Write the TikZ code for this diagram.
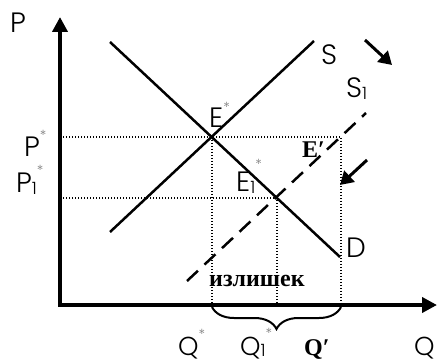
\documentclass[tikz,border=0pt]{standalone}
\usepackage{fontspec}
\setmainfont{Poppins}[UprightFont=*-Light]
\newfontfamily\boldserif{Liberation Serif}[UprightFont=* Bold]
\usepackage{xcolor}
\usetikzlibrary{arrows.meta,calc,decorations.pathreplacing}

\newcommand{\st}{\textcolor{gray}{\fontsize{14}{14}\selectfont *}}
\newcommand{\one}{\raisebox{-1.5pt}{\fontsize{17}{17}\selectfont 1}}

\begin{document}
\begin{tikzpicture}[
    x=1pt, y=-1pt,
    axis/.style={
        draw,
        line width=3.8pt,
        {Triangle[length=15pt,width=15pt]}-{Triangle[length=15pt,width=15pt]}
    },
    curve/.style={
        draw,
        line width=2.5pt
    },
    shifted/.style={
        curve,
        dash pattern=on 15pt off 9pt
    },
    guide/.style={
        draw,
        line width=1.3pt,
        dash pattern=on 1.3pt off 1.7pt
    },
    shiftarrow/.style={
        draw,
        line width=3pt,
        -{Triangle[length=13pt,width=15pt]}
    },
    label/.style={
        anchor=base west,
        inner sep=0pt,
        font=\fontsize{28}{28}\selectfont
    },
    qlabelstyle/.style={
        label,
        font=\fontsize{26}{26}\selectfont
    },
    boldlabel/.style={
        anchor=base west,
        inner sep=0pt,
        font=\boldserif\fontsize{24}{24}\selectfont
    }
]
\useasboundingbox (0,0) rectangle (438,363);

% Points
\coordinate (O) at (60,305);
\coordinate (ptop) at (60,17);
\coordinate (qend) at (437,305);
\coordinate (dstart) at (110,42);
\coordinate (dend) at (340,257);
\coordinate (sstart) at (110,232);
\coordinate (send) at (314,41);
\coordinate (sonestart) at (187,281);
\coordinate (soneend) at (366,113);
\coordinate (E) at (212,137);
\coordinate (Eone) at (277,198);
\coordinate (Eprime) at (341,137);

% Guides
\path [guide] (O |- E) -- (Eprime) -- (Eprime |- O);
\path [guide] (E) -- (E |- O);
\path [guide] (O |- Eone) -- (Eone) -- (Eone |- O);

% Curves
\path [curve] (dstart) -- (dend);
\path [curve] (sstart) -- (send);
\path [shifted] (sonestart) -- (soneend);

% Axes
\path [axis, line join=miter] (ptop) -- (O) -- (qend);

% Brace
\draw [line width=2pt, decorate,
       decoration={brace, mirror, amplitude=22pt}]
    ($(E |- O)+(0,2)$) coordinate (bl) -- ($(Eprime |- O)+(0,2)$) coordinate (br);

% Shift arrows
\coordinate (aonetail) at (365,40);
\coordinate (aonetip) at (392,65);
\coordinate (atwotail) at (367,160);
\coordinate (atwotip) at (340,185);
\path [shiftarrow] (aonetail) -- (aonetip);
\path [shiftarrow] (atwotail) -- (atwotip);

% Labels
\node [label] (plabel) at (10,33) {P};
\node [label] (pstar) at (24,157) {P\raisebox{16pt}{\st}};
\node [label] (ponestar) at (16,193) {P\one\raisebox{17pt}{\st}};
\node [label] (slabel) at (321,65) {S};
\node [label] (sonelabel) at (346,98) {S\one};
\node [label] (dlabel) at (346,257) {D};
\node [qlabelstyle] (qlabel) at (414,355) {Q};
\node [qlabelstyle] (qstar) at (178,355) {Q\raisebox{16pt}{\st}};
\node [qlabelstyle] (qonestar) at (240,355) {Q\one\raisebox{17pt}{\st}};
\node [label] (estar) at (209,128) {E\raisebox{15pt}{\st}};
\node [label] (eonestar) at (236,192) {E\one\raisebox{22pt}{\st}};
\node [boldlabel] (eprime) at (302,158) {E′};
\node [boldlabel] (qprime) at (304,355) {Q′};
\node [boldlabel] (surplus) at (209,286) {излишек};

\end{tikzpicture}
\end{document}
